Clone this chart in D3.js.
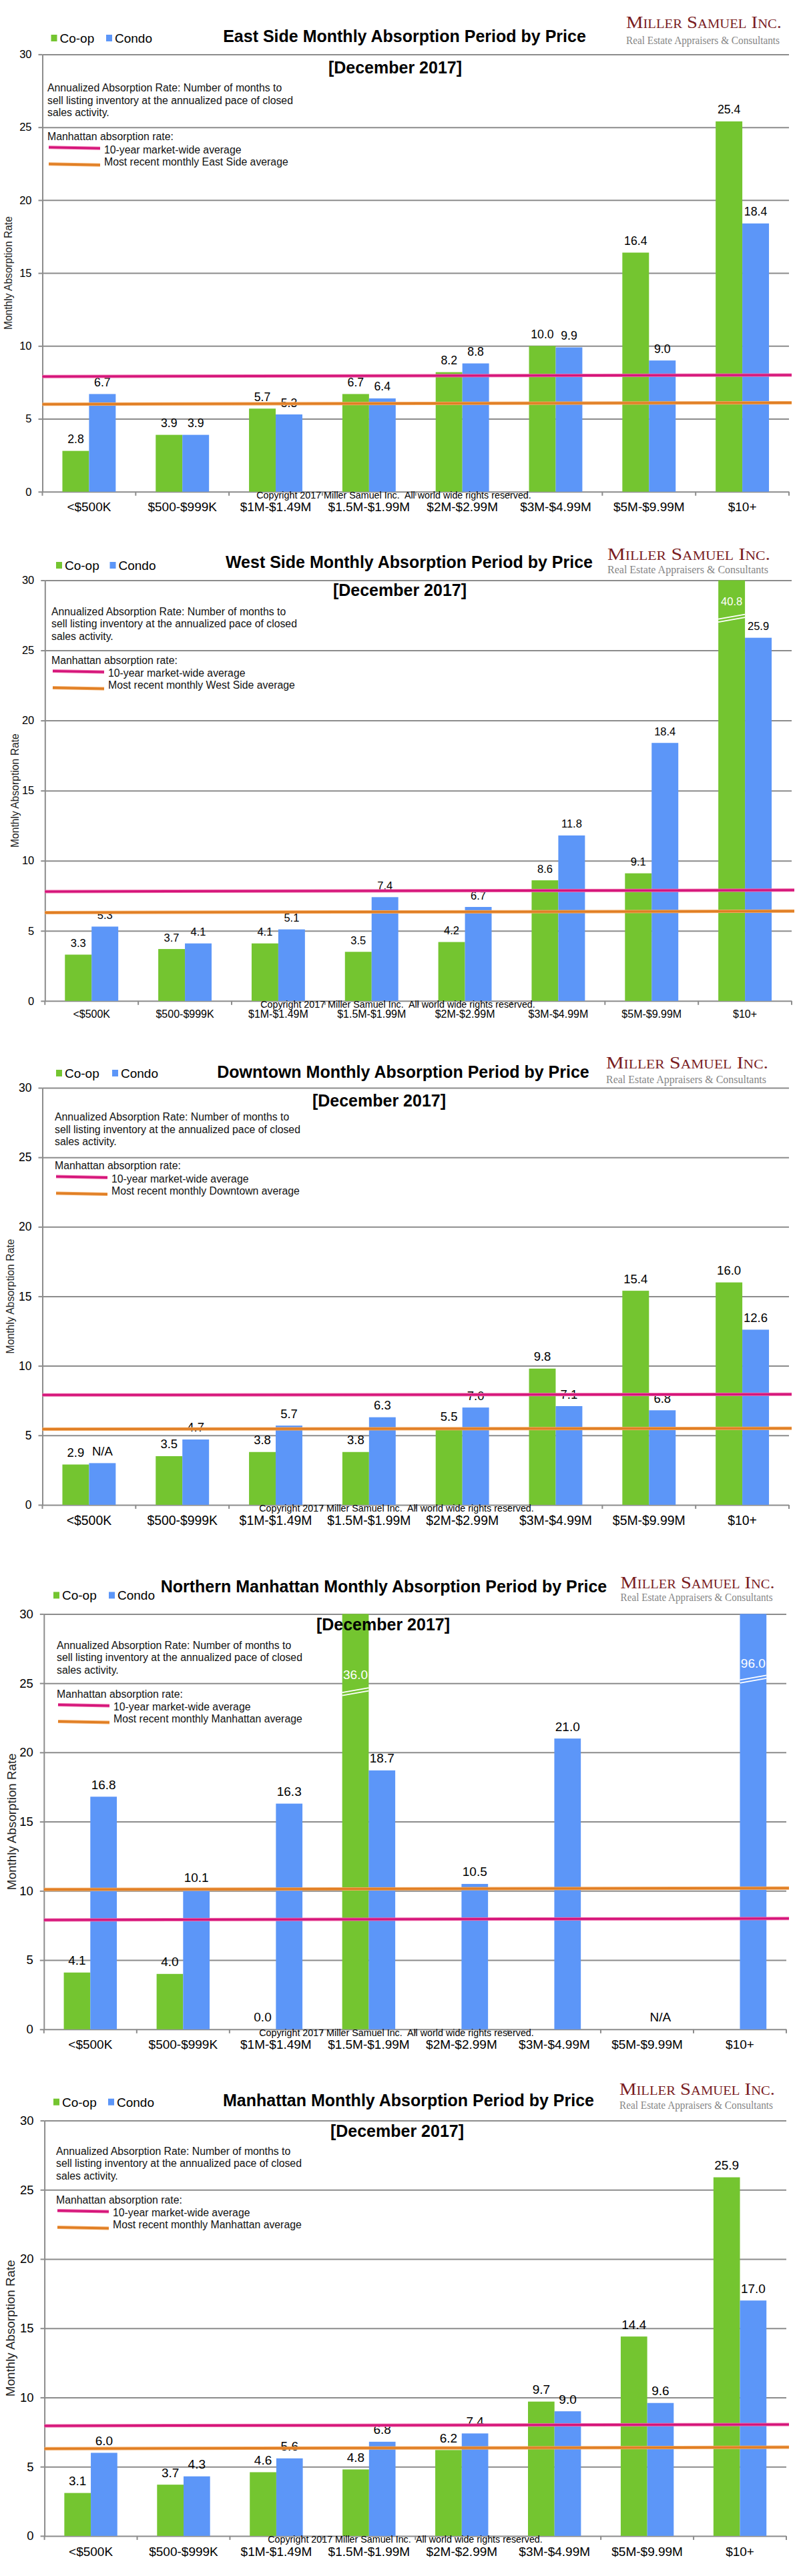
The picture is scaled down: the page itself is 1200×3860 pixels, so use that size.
<!DOCTYPE html>
<html>
<head>
<meta charset="utf-8">
<script src="https://cdn.jsdelivr.net/npm/d3@7"></script>
<style>
  body { margin: 0; background: #ffffff; }
  svg { display: block; }
  text { font-family: "Liberation Sans", Arial, Helvetica, sans-serif; }
</style>
</head>
<body>
<div id="chart"></div>
<script>
// ---------------- DATA ----------------
const categories = ["<$500K", "$500-$999K", "$1M-$1.49M", "$1.5M-$1.99M", "$2M-$2.99M", "$3M-$4.99M", "$5M-$9.99M", "$10+"];
const seriesNames = ["Co-op", "Condo"];
const yTicks = [0, 5, 10, 15, 20, 25, 30];
const yMax = 30;

const eastCoop  = [2.8, 3.9, 5.7, 6.7, 8.2, 10.0, 16.4, 25.4];
const eastCondo = [6.7, 3.9, 5.3, 6.4, 8.8, 9.9, 9.0, 18.4];
const eastAvg10yr  = [7.9, 8.0];   // 10-year market-wide average (left end, right end)
const eastRecent   = [6.0, 6.1];   // most recent monthly East Side average

const westCoop  = [3.3, 3.7, 4.1, 3.5, 4.2, 8.6, 9.1, 40.8];
const westCondo = [5.3, 4.1, 5.1, 7.4, 6.7, 11.8, 18.4, 25.9];
const westAvg10yr = [7.8, 7.9];
const westRecent  = [6.3, 6.4];

const downtownCoop  = [2.9, 3.5, 3.8, 3.8, 5.5, 9.8, 15.4, 16.0];
const downtownCondo = [3.0, 4.7, 5.7, 6.3, 7.0, 7.1, 6.8, 12.6];
const downtownCondoText = ["N/A", null, null, null, null, null, null, null];
const downtownAvg10yr = [7.9, 7.95];
const downtownRecent  = [5.45, 5.5];

const northCoop  = [4.1, 4.0, 0.0, 36.0, null, null, null, null];
const northCondo = [16.8, 10.1, 16.3, 18.7, 10.5, 21.0, null, 96.0];
const northCondoText = [null, null, null, null, null, null, "N/A", null];
const northAvg10yr = [7.9, 8.0];
const northRecent  = [10.1, 10.2];

const manhattanCoop  = [3.1, 3.7, 4.6, 4.8, 6.2, 9.7, 14.4, 25.9];
const manhattanCondo = [6.0, 4.3, 5.6, 6.8, 7.4, 9.0, 9.6, 17.0];
const manhattanAvg10yr = [7.95, 8.05];
const manhattanRecent  = [6.3, 6.4];

const subtitle = "[December 2017]";
const noteLines = ["Annualized Absorption Rate: Number of months to",
                   "sell listing inventory at the annualized pace of closed",
                   "sales activity."];
const noteHeader = "Manhattan absorption rate:";
const avg10Label = "10-year market-wide average";
const copyright = "Copyright 2017 Miller Samuel Inc.  All world wide rights reserved.";
const logoName = "Miller Samuel Inc.";
const logoTag = "Real Estate Appraisers & Consultants";
const yTitle = "Monthly Absorption Rate";

const panels = [
  { title: "East Side Monthly Absorption Period by Price", recentLabel: "Most recent monthly East Side average",
    coop: eastCoop, condo: eastCondo, coopText: null, condoText: null, avg10: eastAvg10yr, recent: eastRecent, breaks: [] },
  { title: "West Side Monthly Absorption Period by Price", recentLabel: "Most recent monthly West Side average",
    coop: westCoop, condo: westCondo, coopText: null, condoText: null, avg10: westAvg10yr, recent: westRecent,
    breaks: [{ series: 0, index: 7, labelAt: 28.2, markAt: 27.3 }] },
  { title: "Downtown Monthly Absorption Period by Price", recentLabel: "Most recent monthly Downtown average",
    coop: downtownCoop, condo: downtownCondo, coopText: null, condoText: downtownCondoText, avg10: downtownAvg10yr, recent: downtownRecent, breaks: [] },
  { title: "Northern Manhattan Monthly Absorption Period by Price", recentLabel: "Most recent monthly Manhattan average",
    coop: northCoop, condo: northCondo, coopText: null, condoText: northCondoText, avg10: northAvg10yr, recent: northRecent,
    breaks: [{ series: 0, index: 3, labelAt: 25.3, markAt: 24.4 }, { series: 1, index: 7, labelAt: 26.1, markAt: 25.3 }] },
  { title: "Manhattan Monthly Absorption Period by Price", recentLabel: "Most recent monthly Manhattan average",
    coop: manhattanCoop, condo: manhattanCondo, coopText: null, condoText: null, avg10: manhattanAvg10yr, recent: manhattanRecent, breaks: [] }
];

// ---------------- LAYOUT ----------------
const layouts = [
  { top: 81.4,  bottom: 736.8,  left: 63.5, right: 1182, titleX: 606, titleDy: -27.4, subX: 592, subDy: 19.6,
    legY: -24.4, legX: [76.5, 159], logoX: 938, logoW: 233, logoDy1: -39.4, logoDy2: -15.4,
    noteX: 71, noteDy: 50.6, valueFont: 17.7, catFont: 19, tickFont: 16.5, yTitleFont: 15.6, yTitleX: 12, copyX: 590, catDy: 29 },
  { top: 869.5, bottom: 1499.8, left: 67.3, right: 1186, titleX: 613, titleDy: -27.5, subX: 599, subDy: 14.5,
    legY: -22.5, legX: [84, 164.5], logoX: 910, logoW: 244, logoDy1: -31, logoDy2: -10.5,
    noteX: 77, noteDy: 47.2, valueFont: 16.5, catFont: 16, tickFont: 16.5, yTitleFont: 15.7, yTitleX: 22, copyX: 596, catDy: 25 },
  { top: 1630,  bottom: 2254.9, left: 63.5, right: 1182, titleX: 604, titleDy: -24, subX: 568, subDy: 19,
    legY: -22, legX: [84, 168], logoX: 908, logoW: 243, logoDy1: -29, logoDy2: -7.5,
    noteX: 82, noteDy: 44.3, valueFont: 18.5, catFont: 19.4, tickFont: 17.5, yTitleFont: 15.8, yTitleX: 15, copyX: 594, catDy: 30 },
  { top: 2418.4, bottom: 3040.8, left: 65.8, right: 1178, titleX: 575, titleDy: -41.4, subX: 574, subDy: 15.6,
    legY: -28, legX: [80, 163], logoX: 929.6, logoW: 231, logoDy1: -38, logoDy2: -19.4,
    noteX: 85, noteDy: 47.3, valueFont: 19, catFont: 19, tickFont: 18.5, yTitleFont: 18.8, yTitleX: 17, copyX: 594, catDy: 29 },
  { top: 3177.5, bottom: 3799.9, left: 66.6, right: 1178, titleX: 612, titleDy: -30.5, subX: 595, subDy: 15.5,
    legY: -27.8, legX: [80, 162], logoX: 928, logoW: 233, logoDy1: -39, logoDy2: -17.5,
    noteX: 84, noteDy: 46.3, valueFont: 19, catFont: 19, tickFont: 18.5, yTitleFont: 18.8, yTitleX: 15, copyX: 607, catDy: 30 }
];

const colors = { coop: "#74c530", condo: "#5c96f8", grid: "#8c8c8c", mag: "#d4147a", magEdge: "#ee6aa8",
                 orange: "#e07e24", orangeEdge: "#f2a860", logo: "#7a1d1f", tag: "#858585" };

// ---------------- DRAW ----------------
const svg = d3.select("#chart").append("svg")
  .attr("width", 1200).attr("height", 3860)
  .attr("viewBox", "0 0 1200 3860");
svg.append("rect").attr("width", 1200).attr("height", 3860).attr("fill", "#fff");

const fmt = d3.format(".1f");
const noteFont = 15.8;

function capText(g, x, yCenter, str, size, anchor, extra) {
  const t = g.append("text").attr("x", x).attr("y", yCenter + 0.358 * size)
    .attr("font-size", size).attr("text-anchor", anchor || "start").attr("fill", "#000").text(str);
  if (extra) extra(t);
  return t;
}

panels.forEach((p, pi) => {
  const L = layouts[pi];
  const g = svg.append("g");
  const W = L.right - L.left;

  const y = d3.scaleLinear().domain([0, yMax]).range([L.bottom, L.top]);
  const x = d3.scaleBand().domain(categories).range([L.left, L.right]).paddingInner(0).paddingOuter(0);
  const xs = d3.scaleBand().domain(seriesNames).range([0, x.bandwidth()]).paddingInner(0).paddingOuter(0.75);

  // gridlines
  const grid = g.append("g").attr("transform", `translate(${L.left},0)`)
    .call(d3.axisLeft(y).tickValues(yTicks).tickSizeInner(-W).tickSizeOuter(0).tickFormat(""));
  grid.select(".domain").remove();
  grid.selectAll("line").attr("stroke", colors.grid).attr("stroke-width", 2);

  // left axis with tick labels
  const ax = g.append("g").attr("transform", `translate(${L.left},0)`)
    .call(d3.axisLeft(y).tickValues(yTicks).tickSize(6).tickSizeOuter(0).tickPadding(10).tickFormat(d3.format("d")));
  ax.select(".domain").attr("stroke", colors.grid).attr("stroke-width", 2);
  ax.selectAll(".tick line").attr("stroke", colors.grid).attr("stroke-width", 2);
  ax.selectAll(".tick text").attr("font-size", L.tickFont).attr("fill", "#000")
    .style("font-family", '"Liberation Sans", Arial, sans-serif');

  // bottom category ticks at boundaries
  const bounds = d3.range(categories.length + 1).map(i => L.left + i * x.step());
  g.selectAll(".btick").data(bounds).join("line")
    .attr("x1", d => d).attr("x2", d => d)
    .attr("y1", y(0)).attr("y2", y(0) + 6)
    .attr("stroke", colors.grid).attr("stroke-width", 2);

  // category labels
  const bx = g.append("g").attr("transform", `translate(0,${L.bottom})`)
    .call(d3.axisBottom(x).tickSize(0).tickPadding(L.catDy - 0.72 * L.catFont));
  bx.select(".domain").remove();
  bx.selectAll(".tick text").attr("font-size", L.catFont).attr("fill", "#000")
    .style("font-family", '"Liberation Sans", Arial, sans-serif');

  // bars
  const series = [
    { name: "Co-op", values: p.coop, text: p.coopText, color: colors.coop },
    { name: "Condo", values: p.condo, text: p.condoText, color: colors.condo }
  ];
  series.forEach((s, si) => {
    const data = s.values.map((v, i) => ({ v, i, cat: categories[i], t: s.text ? s.text[i] : null }));
    g.append("g").selectAll("rect").data(data.filter(d => d.v !== null && d.v > 0)).join("rect")
      .attr("x", d => x(d.cat) + xs(s.name))
      .attr("width", xs.bandwidth())
      .attr("y", d => y(Math.min(d.v, yMax)))
      .attr("height", d => y(0) - y(Math.min(d.v, yMax)))
      .attr("fill", s.color);
    // value labels (bars within range)
    g.append("g").selectAll("text").data(data.filter(d => (d.v !== null && d.v <= yMax) || d.t)).join("text")
      .attr("x", d => x(d.cat) + xs(s.name) + xs.bandwidth() / 2)
      .attr("y", d => y(d.v === null ? 0 : d.v) - 11.5)
      .attr("text-anchor", "middle").attr("font-size", L.valueFont).attr("fill", "#000")
      .text(d => d.t ? d.t : fmt(d.v));
  });

  // broken (off-scale) bars
  p.breaks.forEach(b => {
    const s = series[b.series];
    const v = s.values[b.index];
    const x0 = x(categories[b.index]) + xs(s.name);
    const x1 = x0 + xs.bandwidth();
    g.append("text").attr("x", (x0 + x1) / 2).attr("y", y(b.labelAt))
      .attr("text-anchor", "middle").attr("font-size", L.valueFont).attr("fill", "#fff").text(fmt(v));
    const ym = y(b.markAt);
    [-2, 2.5].forEach(off => {
      g.append("line").attr("x1", x0).attr("x2", x1)
        .attr("y1", ym + off + 3.5).attr("y2", ym + off - 3.5)
        .attr("stroke", "#fff").attr("stroke-width", 1.8);
    });
  });

  // average lines
  const avgLine = d3.line().x(d => d[0]).y(d => y(d[1]));
  [[p.recent, colors.orangeEdge, colors.orange], [p.avg10, colors.magEdge, colors.mag]].forEach(([vals, edge, main]) => {
    const pts = [[L.left, vals[0]], [L.right + 4, vals[1]]];
    g.append("path").attr("d", avgLine(pts)).attr("stroke", edge).attr("stroke-width", 5).attr("fill", "none");
    g.append("path").attr("d", avgLine(pts)).attr("stroke", main).attr("stroke-width", 3).attr("fill", "none");
  });

  // copyright
  g.append("text").attr("x", L.copyX).attr("y", L.bottom + 10.5).attr("text-anchor", "middle")
    .attr("font-size", 14.3).attr("fill", "#000").style("white-space", "pre").text(copyright);

  // y title
  g.append("text").attr("transform", `translate(${L.yTitleX},${(L.top + L.bottom) / 2}) rotate(-90)`)
    .attr("text-anchor", "middle").attr("dominant-baseline", "central")
    .attr("font-size", L.yTitleFont).attr("fill", "#222").text(yTitle);

  // title & subtitle
  capText(g, L.titleX, L.top + L.titleDy, p.title, 25, "middle", t => t.attr("font-weight", "bold"));
  capText(g, L.subX, L.top + L.subDy, subtitle, 25, "middle", t => t.attr("font-weight", "bold"));

  // series legend
  series.forEach((s, si) => {
    const lx = L.legX[si];
    const ly = L.top + L.legY;
    g.append("rect").attr("x", lx).attr("y", ly - 5).attr("width", 9).attr("height", 10).attr("fill", s.color);
    capText(g, lx + 13, ly, s.name, 19, "start");
  });

  // note text
  noteLines.forEach((line, k) => {
    g.append("text").attr("x", L.noteX).attr("y", L.top + L.noteDy + k * 18.5 + 5)
      .attr("font-size", noteFont).attr("fill", "#111").text(line);
  });
  g.append("text").attr("x", L.noteX).attr("y", L.top + L.noteDy + 73 + 5)
    .attr("font-size", noteFont).attr("fill", "#111").text(noteHeader);
  const magY = L.top + L.noteDy + 89.5, orY = L.top + L.noteDy + 114.5;
  [[magY, colors.magEdge, colors.mag], [orY, colors.orangeEdge, colors.orange]].forEach(([ly, edge, main]) => {
    g.append("line").attr("x1", L.noteX + 2).attr("x2", L.noteX + 79).attr("y1", ly - 0.8).attr("y2", ly + 0.8)
      .attr("stroke", edge).attr("stroke-width", 5);
    g.append("line").attr("x1", L.noteX + 2).attr("x2", L.noteX + 79).attr("y1", ly - 0.8).attr("y2", ly + 0.8)
      .attr("stroke", main).attr("stroke-width", 3);
  });
  g.append("text").attr("x", L.noteX + 85).attr("y", magY + 3 + 5).attr("font-size", noteFont).attr("fill", "#111").text(avg10Label);
  g.append("text").attr("x", L.noteX + 85).attr("y", orY - 4 + 5).attr("font-size", noteFont).attr("fill", "#111").text(p.recentLabel);

  // logo
  g.append("text").attr("x", L.logoX).attr("y", L.top + L.logoDy1)
    .attr("font-size", 25).attr("fill", colors.logo)
    .style("font-family", '"Liberation Serif", "Times New Roman", serif')
    .style("font-variant", "small-caps")
    .attr("textLength", L.logoW).attr("lengthAdjust", "spacingAndGlyphs").text(logoName);
  g.append("text").attr("x", L.logoX).attr("y", L.top + L.logoDy2)
    .attr("font-size", 16).attr("fill", colors.tag)
    .style("font-family", '"Liberation Serif", "Times New Roman", serif')
    .attr("textLength", L.logoW - 3).attr("lengthAdjust", "spacingAndGlyphs").text(logoTag);
});
</script>
</body>
</html>
